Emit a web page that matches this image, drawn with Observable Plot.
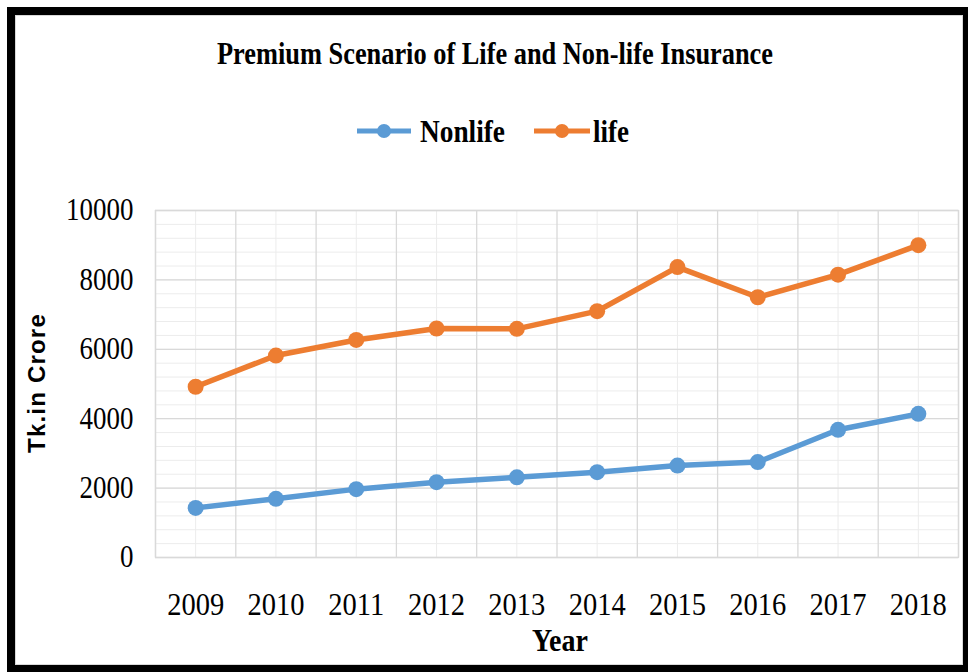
<!DOCTYPE html>
<html>
<head>
<meta charset="utf-8">
<script src="https://cdn.jsdelivr.net/npm/d3@7"></script>
<script src="https://cdn.jsdelivr.net/npm/@observablehq/plot@0.6"></script>
<style>
  html, body { margin: 0; padding: 0; background: #fff; }
  #page { position: relative; width: 968px; height: 672px; overflow: hidden; background: #fff; }
  #frame { position: absolute; left: 7px; top: 7px; width: 961px; height: 665px; box-sizing: border-box;
           border: 8px solid #000; border-right-width: 5px; border-bottom-width: 8px; }
  #inner { position: absolute; left: 15px; top: 15px; width: 948px; height: 650px; box-sizing: border-box;
           border: 1px solid #d9d9d9; }
  .abs { position: absolute; left: 0; top: 0; }
  #chart { position: absolute; left: 0; top: 170px; }
</style>
</head>
<body>
<div id="page">
  <div id="frame"></div>
  <div id="inner"></div>
  <svg class="abs" width="968" height="672" id="overlay"></svg>
  <div id="chart"></div>
</div>
<script>
// ---- data ----
const years = [2009, 2010, 2011, 2012, 2013, 2014, 2015, 2016, 2017, 2018];
const nonlife = [1430, 1690, 1970, 2170, 2310, 2460, 2650, 2750, 3680, 4140];
const life = [4920, 5820, 6270, 6600, 6590, 7100, 8370, 7500, 8150, 9000];
const seriesNames = ["Nonlife", "life"];
const seriesColors = ["#5B9BD5", "#ED7D31"];
const yTicks = [0, 2000, 4000, 6000, 8000, 10000];
const yMinorStep = 400;
const titleText = "Premium Scenario of Life and Non-life Insurance";
const xLabel = "Year";
const yLabel = "Tk.in Crore";

const rows = [];
years.forEach((yr, i) => {
  rows.push({year: yr, value: nonlife[i], series: seriesNames[0]});
  rows.push({year: yr, value: life[i], series: seriesNames[1]});
});
const yMinor = d3.range(0, yTicks[yTicks.length - 1] + 1, yMinorStep);
const xBounds = [years[0] - 0.5, ...years.map(y => y + 0.5)];

const chart = Plot.plot({
  width: 968,
  height: 490,
  marginLeft: 155,
  marginRight: 10,
  marginTop: 40,
  marginBottom: 103,
  style: {fontFamily: "'Liberation Serif', 'Times New Roman', serif", fontSize: "31px", color: "#000", background: "transparent"},
  x: {type: "linear", domain: [years[0] - 0.5, years[years.length - 1] + 0.5]},
  y: {domain: [0, yTicks[yTicks.length - 1]]},
  color: {domain: seriesNames, range: seriesColors},
  marks: [
    Plot.ruleY(yMinor, {stroke: "#ececec", strokeWidth: 1}),
    Plot.ruleX(years, {stroke: "#ececec", strokeWidth: 1}),
    Plot.ruleY(yTicks, {stroke: "#d9d9d9", strokeWidth: 1.3}),
    Plot.ruleX(xBounds, {stroke: "#d9d9d9", strokeWidth: 1.3}),
    Plot.frame({stroke: "#d9d9d9", strokeWidth: 1.3}),
    Plot.axisY({ticks: yTicks, tickSize: 0, tickPadding: 22, label: null, tickFormat: d => String(d), fontSize: 31}),
    Plot.axisX({ticks: years, tickSize: 0, tickPadding: 35, label: null, tickFormat: d => String(d), fontSize: 31}),
    Plot.line(rows, {x: "year", y: "value", z: "series", stroke: "series", strokeWidth: 5.5, strokeLinejoin: "round"}),
    Plot.dot(rows, {x: "year", y: "value", fill: "series", r: 8, stroke: "none"})
  ]
});
document.getElementById("chart").appendChild(chart);

// compress tick labels horizontally (the reference text is narrow)
function squeeze(sel, factor) {
  d3.select(chart).selectAll(sel).each(function() {
    const w = this.getComputedTextLength();
    this.setAttribute("textLength", (w * factor).toFixed(1));
    this.setAttribute("lengthAdjust", "spacingAndGlyphs");
  });
}
squeeze('g[aria-label="y-axis tick label"] text', 0.87);
squeeze('g[aria-label="x-axis tick label"] text', 0.92);

// ---- title, legend, axis titles ----
const ov = d3.select("#overlay");
ov.append("text")
  .attr("x", 495).attr("y", 64)
  .attr("text-anchor", "middle")
  .attr("textLength", 556).attr("lengthAdjust", "spacingAndGlyphs")
  .style("font-family", "'Liberation Serif', 'Times New Roman', serif")
  .style("font-weight", "bold").style("font-size", "31px")
  .text(titleText);

const legendItems = [
  {name: seriesNames[0], color: seriesColors[0], x0: 357, x1: 411, tx: 420, tw: 85},
  {name: seriesNames[1], color: seriesColors[1], x0: 534, x1: 590, tx: 593, tw: 36}
];
legendItems.forEach(it => {
  const g = ov.append("g");
  g.append("line").attr("x1", it.x0).attr("x2", it.x1).attr("y1", 131).attr("y2", 131)
    .attr("stroke", it.color).attr("stroke-width", 5);
  g.append("circle").attr("cx", (it.x0 + it.x1) / 2).attr("cy", 131).attr("r", 7).attr("fill", it.color);
  g.append("text").attr("x", it.tx).attr("y", 142)
    .attr("textLength", it.tw).attr("lengthAdjust", "spacingAndGlyphs")
    .style("font-family", "'Liberation Serif', 'Times New Roman', serif")
    .style("font-weight", "bold").style("font-size", "31px")
    .text(it.name);
});

ov.append("text")
  .attr("x", 560).attr("y", 651)
  .attr("text-anchor", "middle")
  .attr("textLength", 56).attr("lengthAdjust", "spacingAndGlyphs")
  .style("font-family", "'Liberation Serif', 'Times New Roman', serif")
  .style("font-weight", "bold").style("font-size", "31px")
  .text(xLabel);

ov.append("text")
  .attr("transform", "translate(45,383) rotate(-90)")
  .attr("text-anchor", "middle")
  .style("font-family", "'Liberation Sans', Arial, sans-serif")
  .style("font-weight", "bold").style("font-size", "24px")
  .style("letter-spacing", "1.2px")
  .text(yLabel);
</script>
</body>
</html>
